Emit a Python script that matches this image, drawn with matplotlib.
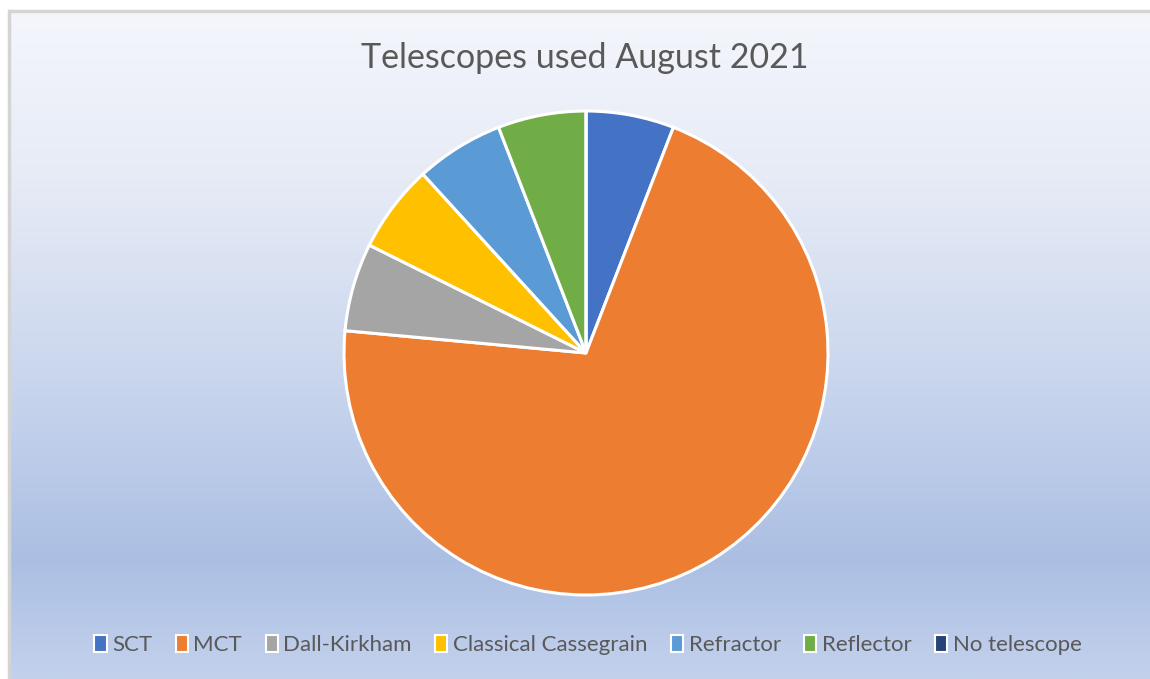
import numpy as np
import matplotlib.pyplot as plt
import matplotlib.patches as mpatches
from matplotlib.colors import LinearSegmentedColormap

labels = ['SCT', 'MCT', 'Dall-Kirkham', 'Classical Cassegrain', 'Refractor', 'Reflector', 'No telescope']
counts = [1, 12, 1, 1, 1, 1, 0]
colors = ['#4472C4', '#ED7D31', '#A5A5A5', '#FFC000', '#5B9BD5', '#70AD47', '#264478']

FONT = ['Lato', 'DejaVu Sans']
TEXT_COLOR = '#595959'

W, H = 1150, 679
fig = plt.figure(figsize=(W / 100, H / 100), dpi=100)
fig.patch.set_facecolor('white')

# Chart area with vertical gradient fill
x0, y_top = 10, 12
bg = fig.add_axes([x0 / W, 0, (W - x0) / W, (H - y_top) / H])
grad = LinearSegmentedColormap.from_list('bg', [
    (0.0, '#F4F6FC'), (0.25, '#E6EBF6'), (0.55, '#CAD6EE'),
    (0.82, '#ABBFE3'), (1.0, '#C3D1EC')])
bg.imshow(np.linspace(0, 1, 256).reshape(-1, 1), aspect='auto', cmap=grad,
          extent=[0, 1, 0, 1], origin='upper')
bg.set_axis_off()

# thin grey border on top and left
fig.add_artist(plt.Line2D([x0 / W, 1], [1 - (y_top - 1) / H] * 2, color='#D4D4D4', lw=2.5))
fig.add_artist(plt.Line2D([(x0 - 1.5) / W] * 2, [0, 1 - (y_top - 1) / H], color='#D4D4D4', lw=2.5))

# Pie
cx, cy, r = 586, 353, 242
ax = fig.add_axes([(cx - r) / W, 1 - (cy + r) / H, 2 * r / W, 2 * r / H])
ax.pie(counts, colors=colors, startangle=90, counterclock=False, radius=1,
       wedgeprops=dict(edgecolor='white', linewidth=2.2))
ax.set_xlim(-1.0, 1.0)
ax.set_ylim(-1.0, 1.0)
ax.set_aspect('equal')
ax.set_axis_off()

fig.text(585 / W, 1 - 58 / H, 'Telescopes used August 2021', ha='center', va='center',
         fontsize=24.5, color=TEXT_COLOR, family=FONT)

handles = [mpatches.Patch(facecolor=c, edgecolor='white', linewidth=1.5, label=l)
           for c, l in zip(colors, labels)]
fig.legend(handles=handles, loc='center', bbox_to_anchor=(588 / W, 1 - 645 / H), ncol=7,
           frameon=False, handlelength=0.55, handleheight=0.85, handletextpad=0.25,
           columnspacing=1.05, prop=dict(family=FONT, size=16), labelcolor=TEXT_COLOR)

fig.savefig('out.png', dpi=100)
